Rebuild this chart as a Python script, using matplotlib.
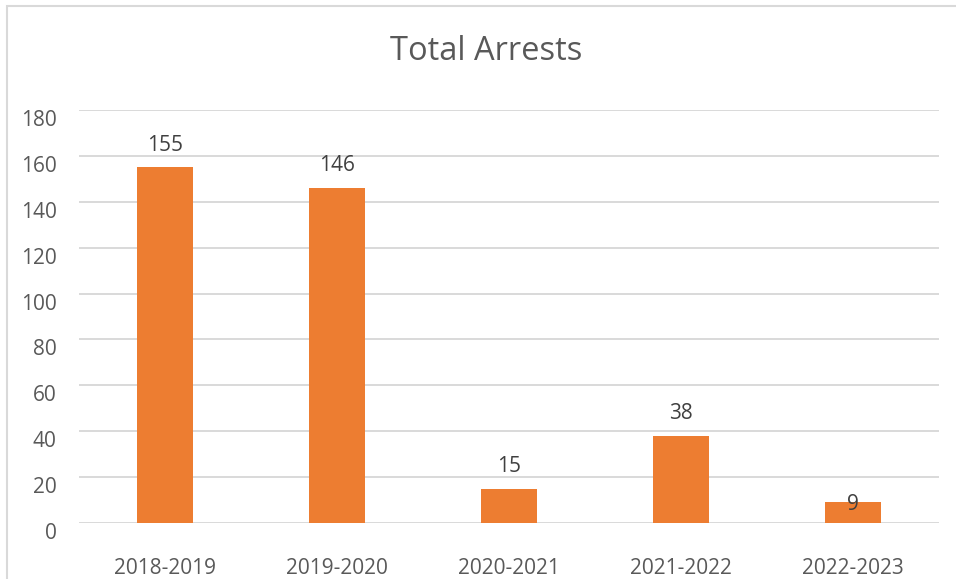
import matplotlib
matplotlib.use("Agg")
import matplotlib.pyplot as plt
from matplotlib.patches import Rectangle
import matplotlib.transforms as mtransforms

categories = ["2018-2019", "2019-2020", "2020-2021", "2021-2022", "2022-2023"]
values = [155, 146, 15, 38, 9]
yticks = [0, 20, 40, 60, 80, 100, 120, 140, 160, 180]

FONT = ["Open Sans", "DejaVu Sans"]
plt.rcParams["font.family"] = FONT

W, H = 956, 579
fig = plt.figure(figsize=(W / 100, H / 100), dpi=100)
fig.patch.set_facecolor("white")

# outer chart border (light gray)
fig.patches.append(Rectangle((7 / W, -0.05), 1.2, (H - 6) / H + 0.05,
                             transform=fig.transFigure, fill=False,
                             edgecolor="#D9D9D9", linewidth=1.5))

ax = fig.add_axes([79 / W, 1 - 523 / H, (939 - 79) / W, (523 - 110) / H])
x = list(range(len(categories)))
ax.bar(x, values, width=0.32, color="#ED7D31", zorder=3)
ax.set_xlim(-0.5, len(categories) - 0.5)
ax.set_ylim(0, 180)
ax.set_yticks(yticks)
ax.set_xticks(x)
ax.set_xticklabels(categories)
ax.grid(axis="y", color="#D9D9D9", linewidth=1.4, zorder=0)
ax.set_axisbelow(True)
for s in ax.spines.values():
    s.set_visible(False)
ax.tick_params(axis="both", length=0, labelsize=15, colors="#595959")
ax.tick_params(axis="y", pad=16)
ax.tick_params(axis="x", pad=25)
off = mtransforms.ScaledTranslation(0, -8 / 100, fig.dpi_scale_trans)
for lab in ax.get_yticklabels():
    lab.set_transform(lab.get_transform() + off)

for i, v in enumerate(values):
    dy = 16 if v > 10 else -1.5
    ax.annotate(str(v), (i, v), xytext=(0, dy), textcoords="offset points",
                ha="center", va="center", fontsize=15, color="#404040", zorder=4)

fig.text(486 / W, 1 - 51 / H, "Total Arrests", ha="center",
         va="center", fontsize=23.5, color="#595959")

fig.savefig("out.png", dpi=100)
